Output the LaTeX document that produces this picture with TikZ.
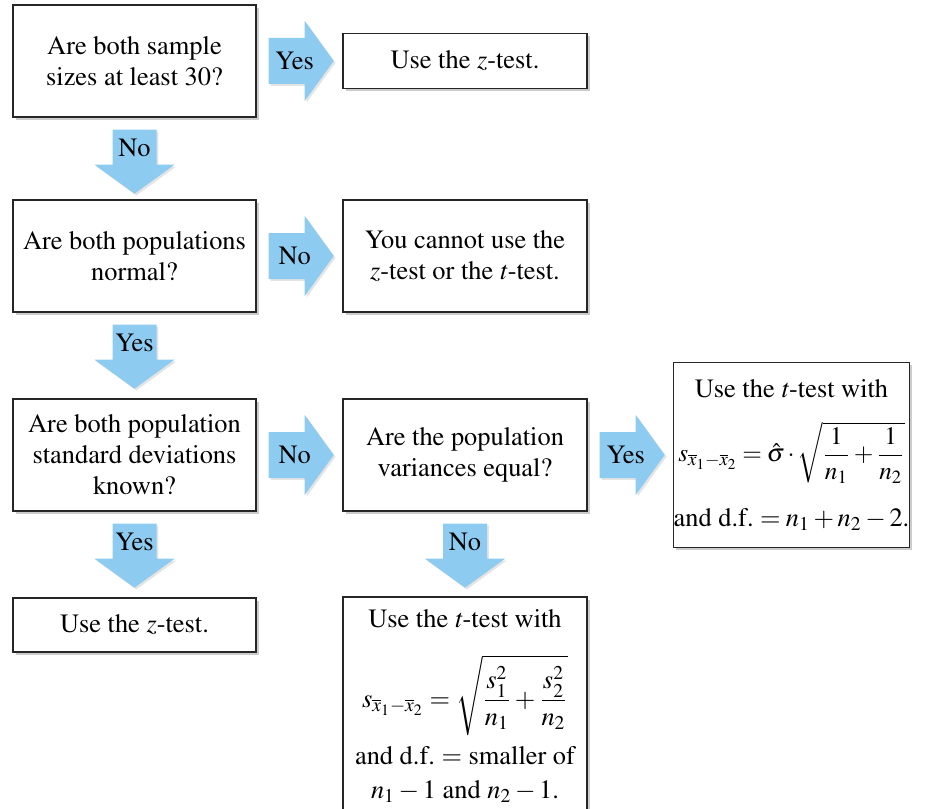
\documentclass[tikz,border=0pt]{standalone}
\usepackage[T1]{fontenc}
\usepackage{mathptmx}
\usetikzlibrary{calc,shadows}
\definecolor{arrowblue}{RGB}{141,203,240}

\begin{document}
\begin{tikzpicture}[x=0.5pt,y=-0.5pt,
    font=\fontsize{13.2}{15.5}\selectfont,
    B/.style={rectangle, draw=black!85, line width=0.7pt, fill=white, align=center, inner sep=0pt,
      drop shadow={shadow xshift=1.3pt, shadow yshift=-1.3pt, fill=black!40, opacity=0.5}},
    A/.style={fill=arrowblue, drop shadow={shadow xshift=0.9pt, shadow yshift=-0.9pt, fill=black!30, opacity=0.35}},
    R/.style={A, to path={($(\tikztostart)+(12,-23)$) -- ++(36,0) -- ++(0,-17) -- ++(29,40) -- ++(-29,40) -- ++(0,-17) -- ++(-36,0) -- cycle}},
    D/.style={A, to path={($(\tikztostart)+(-22,12)$) -- ++(0,35) -- ++(-18,0) -- ++(40,29) -- ++(40,-29) -- ++(-18,0) -- ++(0,-35) -- cycle}},
    L/.style={inner sep=0pt}]

    \useasboundingbox (0,0) rectangle (925,808);

    % Left column: questions
    \node[B, minimum width=121.5pt, minimum height=56pt] (q1) at (134.5,61) {Are both sample\\sizes at least 30?};
    \node[B, minimum width=121.5pt, minimum height=56pt] (q2) at (134.5,256) {Are both populations\\normal?};
    \node[B, minimum width=121.5pt, minimum height=56pt] (q3) at (134.5,455) {Are both population\\standard deviations\\known?};
    \node[B, minimum width=121.5pt, minimum height=27pt] (z2) at (134.5,625) {Use the \emph{z}-test.};

    % Middle column
    \node[B, minimum width=122pt, minimum height=27.5pt] (z1) at (465,61) {Use the \emph{z}-test.};
    \node[B, minimum width=122pt, minimum height=56pt] (no) at (465,256) {You cannot use the\\\emph{z}-test or the \emph{t}-test.};
    \node[B, minimum width=122pt, minimum height=56pt] (q4) at (465,455) {Are the population\\variances equal?};
    \node[B, minimum width=122pt, minimum height=109pt] (t2) at (465,706) {Use the \emph{t}-test with\\[12.5pt]
      $\displaystyle s_{\overline{x}_1-\overline{x}_2}=\sqrt{\frac{s_1^2}{n_1}+\frac{s_2^2}{n_2}}$\\[4.5pt]
      and d.f.\ $=$ smaller of\\[1.5pt]$n_1-1$ and $n_2-1$.};

    % Right column
    \node[B, minimum width=114.5pt, minimum height=92.5pt] (t1) at (791.5,455) {Use the \emph{t}-test with\\[11pt]
      {\fontsize{12.6}{15}\selectfont$\thickmuskip=3.5mu\medmuskip=2.5mu\displaystyle
      s_{\overline{x}_1-\overline{x}_2}=\hat{\sigma}\,{\cdot}\,\sqrt{\frac{1}{n_1}+\frac{1}{n_2}}$}\\[11.5pt]
      and d.f.\ $\thickmuskip=3.5mu\medmuskip=2.5mu=n_1+n_2-2$.};

    % Block arrows
    \fill[R] (q1.east) to (z1.west);
    \fill[R] (q2.east) to (no.west);
    \fill[R] (q3.east) to (q4.west);
    \fill[R] (q4.east) to (t1.west);
    \fill[D] (q1.south) to (q2.north);
    \fill[D] (q2.south) to (q3.north);
    \fill[D] (q3.south) to (z2.north);
    \fill[D] (q4.south) to (t2.north);

    % Labels
    \node[L] (y1) at ($(q1.east)+(38,0)$) {Yes};
    \node[L] (n2) at ($(q2.east)+(38,0)$) {No};
    \node[L] (n3) at ($(q3.east)+(38,0)$) {No};
    \node[L] (y4) at ($(q4.east)+(38,0)$) {Yes};
    \node[L] (n1) at ($(q1.south)+(0,30)$) {No};
    \node[L] (y2) at ($(q2.south)+(0,30)$) {Yes};
    \node[L] (y3) at ($(q3.south)+(0,30)$) {Yes};
    \node[L] (n4) at ($(q4.south)+(0,30)$) {No};
\end{tikzpicture}
\end{document}
